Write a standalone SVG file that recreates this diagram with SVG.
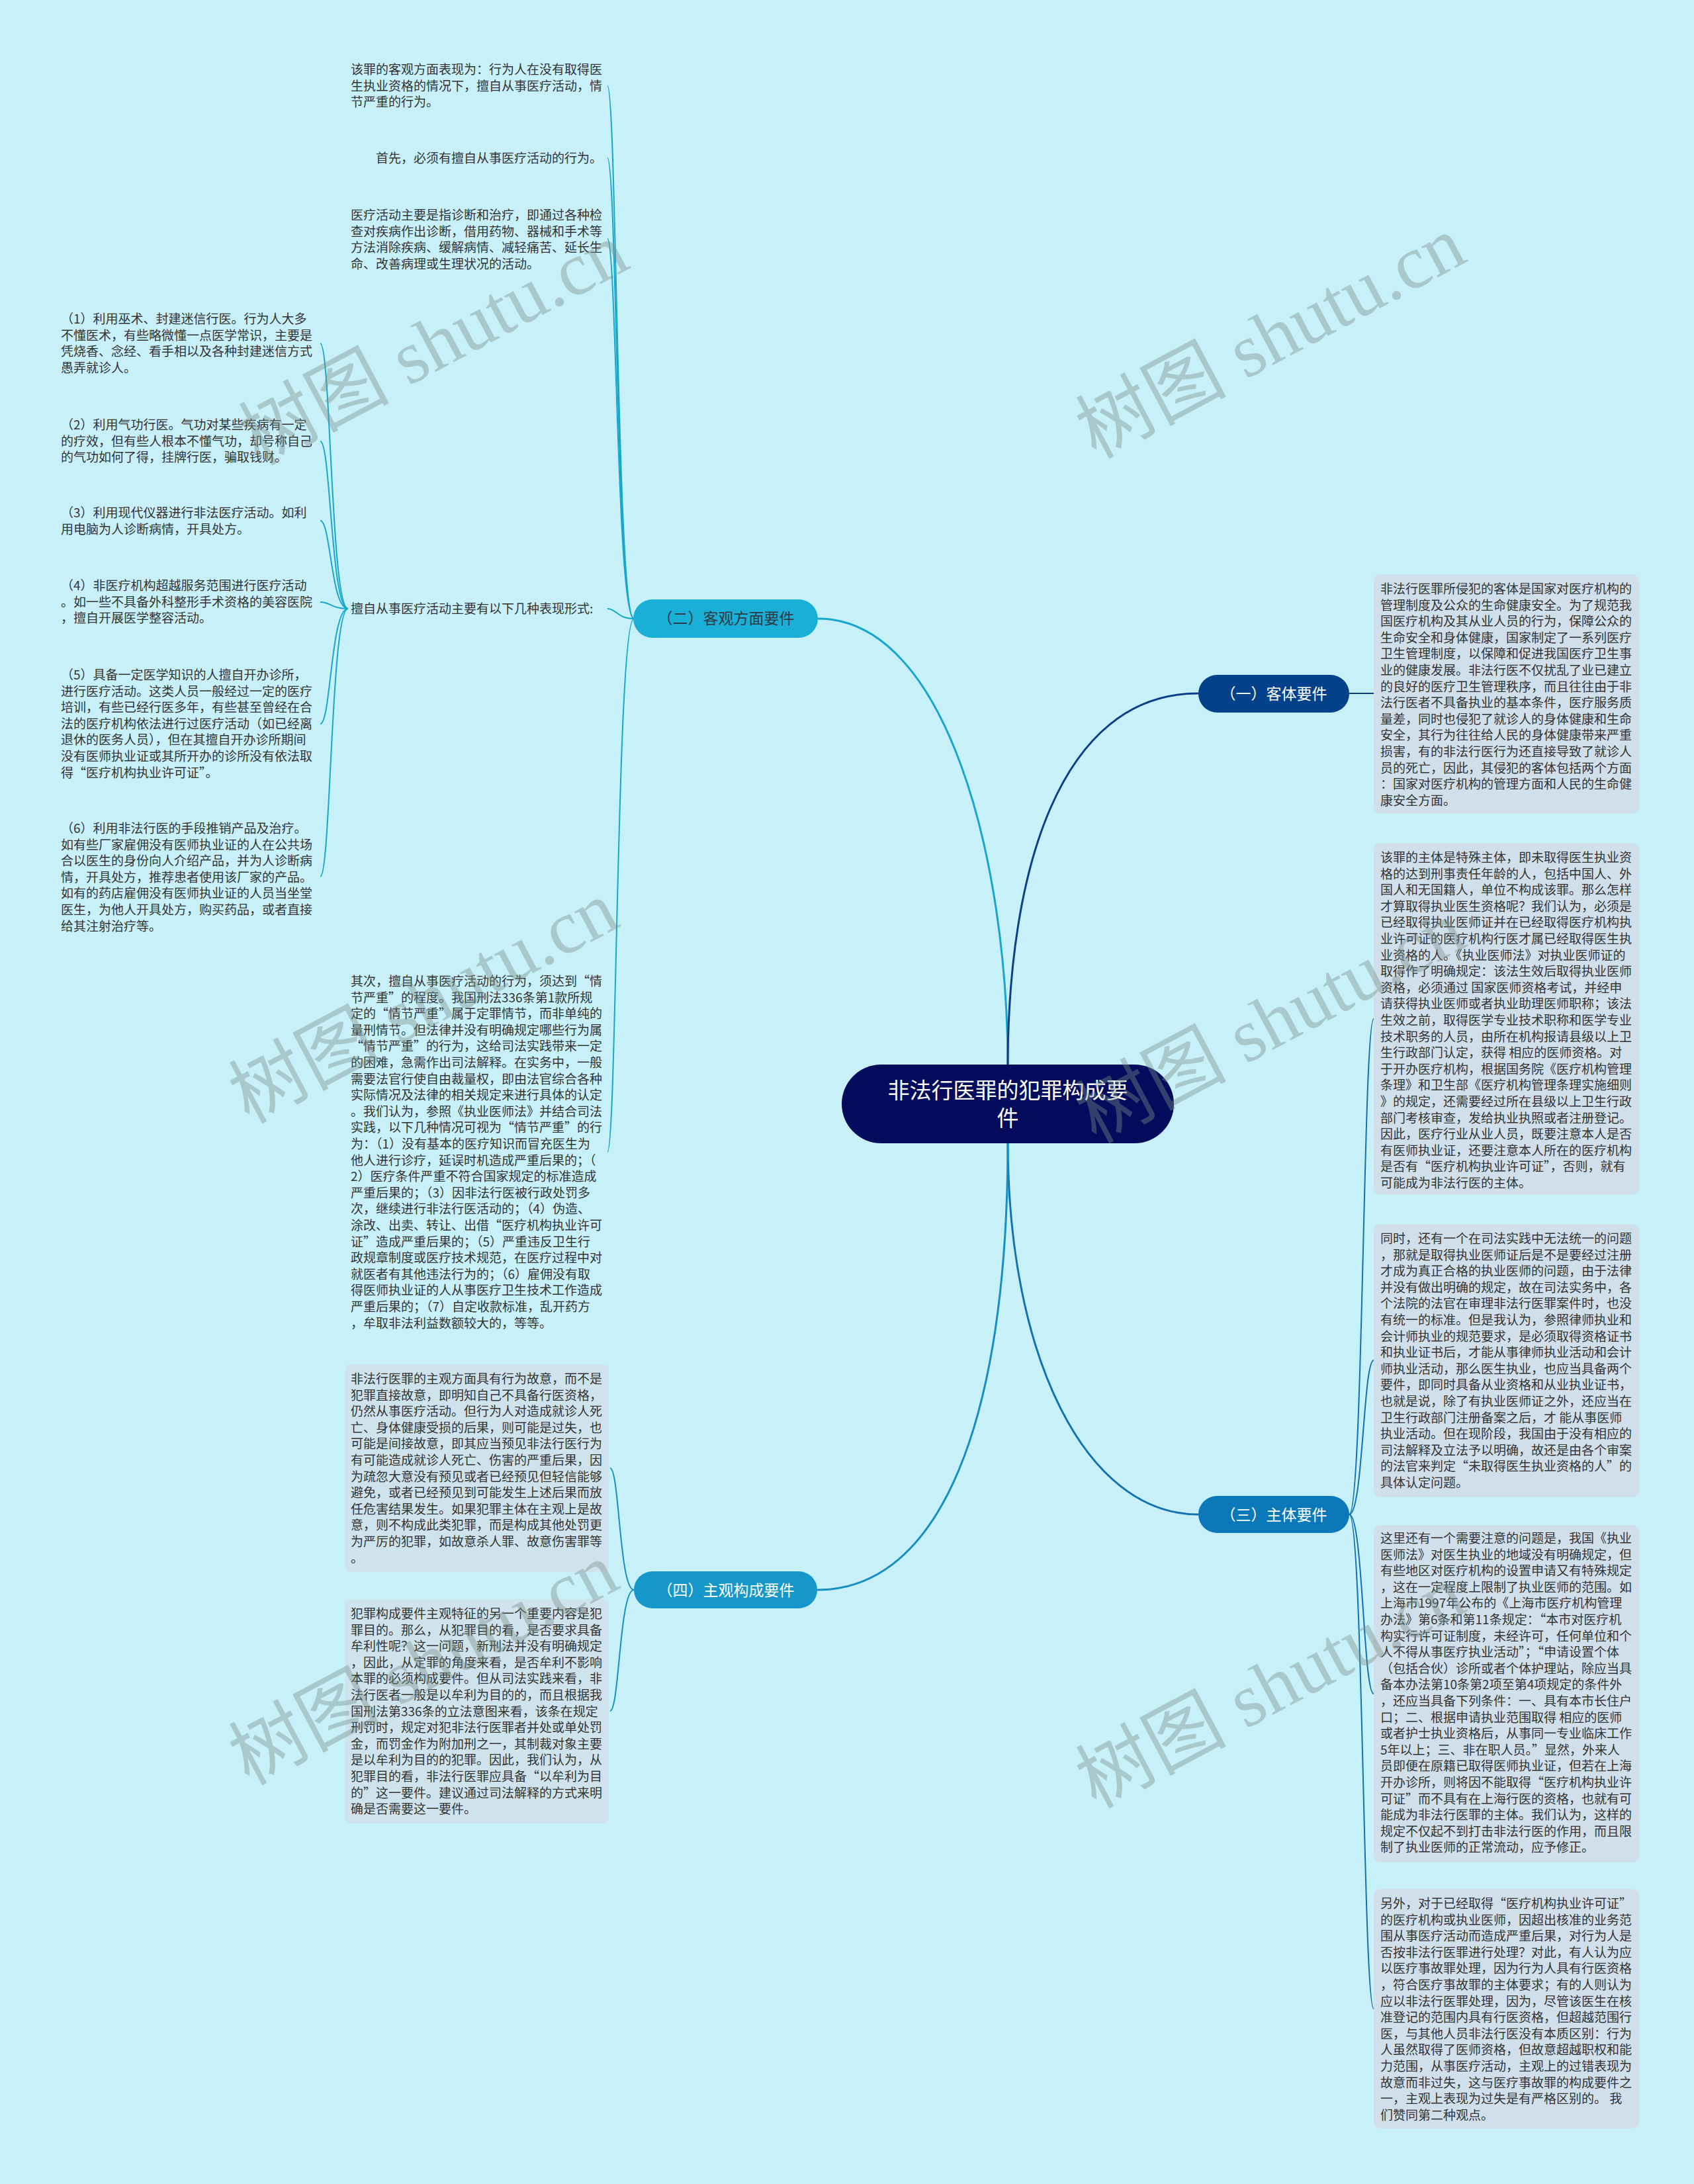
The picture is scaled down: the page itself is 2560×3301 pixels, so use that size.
<svg xmlns="http://www.w3.org/2000/svg" width="2560" height="3301" viewBox="0 0 2560 3301">
<style>
.t{font-family:'Noto Sans CJK SC','Noto Sans',sans-serif;font-size:19px;fill:#333333}
.nt{font-family:'Noto Sans CJK SC','Noto Sans',sans-serif;font-size:23px;text-anchor:middle}
.ct{font-family:'Noto Sans CJK SC','Noto Sans',sans-serif;font-size:33px;fill:#ffffff;text-anchor:middle}
.box{fill:#d0dfea}
.lbox{fill:#cfe3ec}
.c2{fill:none;stroke:#17a7cd;stroke-width:2}
.c1{fill:none;stroke:#0b3f86;stroke-width:2}
.c3{fill:none;stroke:#1272b0;stroke-width:2}
.c4{fill:none;stroke:#168fc3;stroke-width:2}
.wm{font-family:'Liberation Serif','Noto Sans CJK SC',serif;font-size:114px;fill:#7a8f8a;opacity:0.4;text-anchor:middle;dominant-baseline:central}
</style>
<rect x="0" y="0" width="2560" height="3301" fill="#c8f0f8"/>

<g id="connectors">
<path class="c2" d="M 1523 1612 C 1523 1300, 1430 935, 1236 935" style="stroke-width:3"/>
<path class="c1" d="M 1523 1612 C 1523 1320, 1600 1048, 1811 1048" style="stroke-width:3"/>
<path class="c3" d="M 1523 1725 C 1523 2050, 1640 2289, 1811 2289" style="stroke-width:3"/>
<path class="c4" d="M 1523 1725 C 1523 2150, 1420 2403, 1235 2403" style="stroke-width:3"/>
<path class="c1" d="M 2039 1048 H 2076"/>
<path class="c3" d="M 2039 2289 C 2060 2289, 2060 1540, 2076 1540"/>
<path class="c3" d="M 2039 2289 C 2060 2289, 2060 2056, 2076 2056"/>
<path class="c3" d="M 2039 2289 C 2060 2289, 2060 2560, 2076 2560"/>
<path class="c3" d="M 2039 2289 C 2060 2289, 2060 3036, 2076 3036"/>
<path class="c2" d="M 958 935 C 932 935, 932 130, 918 130"/>
<path class="c2" d="M 958 935 C 932 935, 932 239, 918 239"/>
<path class="c2" d="M 958 935 C 932 935, 932 361, 918 361"/>
<path class="c2" d="M 958 935 C 932 935, 932 920, 918 920"/>
<path class="c2" d="M 958 935 C 932 935, 932 1741, 918 1741"/>
<path class="c2" d="M 526 920 C 500 920, 500 519, 484 519"/>
<path class="c2" d="M 526 920 C 500 920, 500 667, 484 667"/>
<path class="c2" d="M 526 920 C 500 920, 500 787, 484 787"/>
<path class="c2" d="M 526 920 C 500 920, 500 910, 484 910"/>
<path class="c2" d="M 526 920 C 500 920, 500 1094, 484 1094"/>
<path class="c2" d="M 526 920 C 500 920, 500 1325, 484 1325"/>
<path class="c4" d="M 958 2403 C 936 2403, 936 2219, 922 2219"/>
<path class="c4" d="M 958 2403 C 936 2403, 936 2586, 922 2586"/>
</g>

<g id="root">
<rect x="1272" y="1609" width="502" height="119" rx="59.5" fill="#030b5c"/>
<text class="ct" x="1523" y="1660">非法行医罪的犯罪构成要</text>
<text class="ct" x="1523" y="1702">件</text>
</g>

<g id="n2">
<rect x="957" y="906" width="279" height="58" rx="29" fill="#19afd6"/>
<text class="nt" x="1097" y="943" fill="#2e3a44">（二）客观方面要件</text>
</g>
<g id="n1">
<rect x="1811" y="1020" width="228" height="57" rx="28.5" fill="#04418b"/>
<text class="nt" x="1925" y="1057" fill="#ffffff">（一）客体要件</text>
</g>
<g id="n3">
<rect x="1811" y="2261" width="228" height="56" rx="28" fill="#0b78ba"/>
<text class="nt" x="1925" y="2298" fill="#ffffff">（三）主体要件</text>
</g>
<g id="n4">
<rect x="958" y="2375" width="277" height="56" rx="28" fill="#1597c9"/>
<text class="nt" x="1097" y="2412" fill="#ffffff">（四）主观构成要件</text>
</g>

<g id="leafA">
<text class="t" x="530" y="112"><tspan x="530">该罪的客观方面表现为：行为人在没有取得医</tspan><tspan x="530" dy="24.6">生执业资格的情况下，擅自从事医疗活动，情</tspan><tspan x="530" dy="24.6">节严重的行为。</tspan></text>
</g>
<g id="leafB">
<text class="t" x="568" y="246">首先，必须有擅自从事医疗活动的行为。</text>
</g>
<g id="leafC">
<text class="t" x="530" y="332"><tspan x="530">医疗活动主要是指诊断和治疗，即通过各种检</tspan><tspan x="530" dy="24.6">查对疾病作出诊断，借用药物、器械和手术等</tspan><tspan x="530" dy="24.6">方法消除疾病、缓解病情、减轻痛苦、延长生</tspan><tspan x="530" dy="24.6">命、改善病理或生理状况的活动。</tspan></text>
</g>
<g id="leafD">
<text class="t" x="530" y="927">擅自从事医疗活动主要有以下几种表现形式:</text>
</g>
<g id="leafE">
<text class="t" x="530" y="1490"><tspan x="530">其次，擅自从事医疗活动的行为，须达到“情</tspan><tspan x="530" dy="24.6">节严重”的程度。我国刑法336条第1款所规</tspan><tspan x="530" dy="24.6">定的“情节严重”属于定罪情节，而非单纯的</tspan><tspan x="530" dy="24.6">量刑情节。但法律并没有明确规定哪些行为属</tspan><tspan x="530" dy="24.6">“情节严重”的行为，这给司法实践带来一定</tspan><tspan x="530" dy="24.6">的困难，急需作出司法解释。在实务中，一般</tspan><tspan x="530" dy="24.6">需要法官行使自由裁量权，即由法官综合各种</tspan><tspan x="530" dy="24.6">实际情况及法律的相关规定来进行具体的认定</tspan><tspan x="530" dy="24.6">。我们认为，参照《执业医师法》并结合司法</tspan><tspan x="530" dy="24.6">实践，以下几种情况可视为“情节严重”的行</tspan><tspan x="530" dy="24.6">为：（1）没有基本的医疗知识而冒充医生为</tspan><tspan x="530" dy="24.6">他人进行诊疗，延误时机造成严重后果的；（</tspan><tspan x="530" dy="24.6">2）医疗条件严重不符合国家规定的标准造成</tspan><tspan x="530" dy="24.6">严重后果的；（3）因非法行医被行政处罚多</tspan><tspan x="530" dy="24.6">次，继续进行非法行医活动的；（4）伪造、</tspan><tspan x="530" dy="24.6">涂改、出卖、转让、出借“医疗机构执业许可</tspan><tspan x="530" dy="24.6">证”造成严重后果的；（5）严重违反卫生行</tspan><tspan x="530" dy="24.6">政规章制度或医疗技术规范，在医疗过程中对</tspan><tspan x="530" dy="24.6">就医者有其他违法行为的；（6）雇佣没有取</tspan><tspan x="530" dy="24.6">得医师执业证的人从事医疗卫生技术工作造成</tspan><tspan x="530" dy="24.6">严重后果的；（7）自定收款标准，乱开药方</tspan><tspan x="530" dy="24.6">，牟取非法利益数额较大的，等等。</tspan></text>
</g>

<g id="leafD1">
<text class="t" x="92" y="489"><tspan x="92">（1）利用巫术、封建迷信行医。行为人大多</tspan><tspan x="92" dy="24.6">不懂医术，有些略微懂一点医学常识，主要是</tspan><tspan x="92" dy="24.6">凭烧香、念经、看手相以及各种封建迷信方式</tspan><tspan x="92" dy="24.6">愚弄就诊人。</tspan></text>
</g>
<g id="leafD2">
<text class="t" x="92" y="649"><tspan x="92">（2）利用气功行医。气功对某些疾病有一定</tspan><tspan x="92" dy="24.6">的疗效，但有些人根本不懂气功，却号称自己</tspan><tspan x="92" dy="24.6">的气功如何了得，挂牌行医，骗取钱财。</tspan></text>
</g>
<g id="leafD3">
<text class="t" x="92" y="782"><tspan x="92">（3）利用现代仪器进行非法医疗活动。如利</tspan><tspan x="92" dy="24.6">用电脑为人诊断病情，开具处方。</tspan></text>
</g>
<g id="leafD4">
<text class="t" x="92" y="892"><tspan x="92">（4）非医疗机构超越服务范围进行医疗活动</tspan><tspan x="92" dy="24.6">。如一些不具备外科整形手术资格的美容医院</tspan><tspan x="92" dy="24.6">，擅自开展医学整容活动。</tspan></text>
</g>
<g id="leafD5">
<text class="t" x="92" y="1027"><tspan x="92">（5）具备一定医学知识的人擅自开办诊所，</tspan><tspan x="92" dy="24.6">进行医疗活动。这类人员一般经过一定的医疗</tspan><tspan x="92" dy="24.6">培训，有些已经行医多年，有些甚至曾经在合</tspan><tspan x="92" dy="24.6">法的医疗机构依法进行过医疗活动（如已经离</tspan><tspan x="92" dy="24.6">退休的医务人员），但在其擅自开办诊所期间</tspan><tspan x="92" dy="24.6">没有医师执业证或其所开办的诊所没有依法取</tspan><tspan x="92" dy="24.6">得“医疗机构执业许可证”。</tspan></text>
</g>
<g id="leafD6">
<text class="t" x="92" y="1259"><tspan x="92">（6）利用非法行医的手段推销产品及治疗。</tspan><tspan x="92" dy="24.6">如有些厂家雇佣没有医师执业证的人在公共场</tspan><tspan x="92" dy="24.6">合以医生的身份向人介绍产品，并为人诊断病</tspan><tspan x="92" dy="24.6">情，开具处方，推荐患者使用该厂家的产品。</tspan><tspan x="92" dy="24.6">如有的药店雇佣没有医师执业证的人员当坐堂</tspan><tspan x="92" dy="24.6">医生，为他人开具处方，购买药品，或者直接</tspan><tspan x="92" dy="24.6">给其注射治疗等。</tspan></text>
</g>

<g id="leafF">
<rect class="lbox" x="522" y="2062" width="398" height="314" rx="8"/>
<text class="t" x="530" y="2091"><tspan x="530">非法行医罪的主观方面具有行为故意，而不是</tspan><tspan x="530" dy="24.6">犯罪直接故意，即明知自己不具备行医资格，</tspan><tspan x="530" dy="24.6">仍然从事医疗活动。但行为人对造成就诊人死</tspan><tspan x="530" dy="24.6">亡、身体健康受损的后果，则可能是过失，也</tspan><tspan x="530" dy="24.6">可能是间接故意，即其应当预见非法行医行为</tspan><tspan x="530" dy="24.6">有可能造成就诊人死亡、伤害的严重后果，因</tspan><tspan x="530" dy="24.6">为疏忽大意没有预见或者已经预见但轻信能够</tspan><tspan x="530" dy="24.6">避免，或者已经预见到可能发生上述后果而放</tspan><tspan x="530" dy="24.6">任危害结果发生。如果犯罪主体在主观上是故</tspan><tspan x="530" dy="24.6">意，则不构成此类犯罪，而是构成其他处罚更</tspan><tspan x="530" dy="24.6">为严厉的犯罪，如故意杀人罪、故意伤害罪等</tspan><tspan x="530" dy="24.6">。</tspan></text>
</g>
<g id="leafG">
<rect class="lbox" x="522" y="2417" width="398" height="339" rx="8"/>
<text class="t" x="530" y="2446"><tspan x="530">犯罪构成要件主观特征的另一个重要内容是犯</tspan><tspan x="530" dy="24.6">罪目的。那么，从犯罪目的看，是否要求具备</tspan><tspan x="530" dy="24.6">牟利性呢？这一问题，新刑法并没有明确规定</tspan><tspan x="530" dy="24.6">，因此，从定罪的角度来看，是否牟利不影响</tspan><tspan x="530" dy="24.6">本罪的必须构成要件。但从司法实践来看，非</tspan><tspan x="530" dy="24.6">法行医者一般是以牟利为目的的，而且根据我</tspan><tspan x="530" dy="24.6">国刑法第336条的立法意图来看，该条在规定</tspan><tspan x="530" dy="24.6">刑罚时，规定对犯非法行医罪者并处或单处罚</tspan><tspan x="530" dy="24.6">金，而罚金作为附加刑之一，其制裁对象主要</tspan><tspan x="530" dy="24.6">是以牟利为目的的犯罪。因此，我们认为，从</tspan><tspan x="530" dy="24.6">犯罪目的看，非法行医罪应具备“以牟利为目</tspan><tspan x="530" dy="24.6">的”这一要件。建议通过司法解释的方式来明</tspan><tspan x="530" dy="24.6">确是否需要这一要件。</tspan></text>
</g>

<g id="leafR1">
<rect class="box" x="2076" y="868" width="401" height="362" rx="10"/>
<text class="t" x="2086" y="897"><tspan x="2086">非法行医罪所侵犯的客体是国家对医疗机构的</tspan><tspan x="2086" dy="24.6">管理制度及公众的生命健康安全。为了规范我</tspan><tspan x="2086" dy="24.6">国医疗机构及其从业人员的行为，保障公众的</tspan><tspan x="2086" dy="24.6">生命安全和身体健康，国家制定了一系列医疗</tspan><tspan x="2086" dy="24.6">卫生管理制度，以保障和促进我国医疗卫生事</tspan><tspan x="2086" dy="24.6">业的健康发展。非法行医不仅扰乱了业已建立</tspan><tspan x="2086" dy="24.6">的良好的医疗卫生管理秩序，而且往往由于非</tspan><tspan x="2086" dy="24.6">法行医者不具备执业的基本条件，医疗服务质</tspan><tspan x="2086" dy="24.6">量差，同时也侵犯了就诊人的身体健康和生命</tspan><tspan x="2086" dy="24.6">安全，其行为往往给人民的身体健康带来严重</tspan><tspan x="2086" dy="24.6">损害，有的非法行医行为还直接导致了就诊人</tspan><tspan x="2086" dy="24.6">员的死亡，因此，其侵犯的客体包括两个方面</tspan><tspan x="2086" dy="24.6">：国家对医疗机构的管理方面和人民的生命健</tspan><tspan x="2086" dy="24.6">康安全方面。</tspan></text>
</g>
<g id="leafR2">
<rect class="box" x="2076" y="1274" width="401" height="532" rx="10"/>
<text class="t" x="2086" y="1303"><tspan x="2086">该罪的主体是特殊主体，即未取得医生执业资</tspan><tspan x="2086" dy="24.6">格的达到刑事责任年龄的人，包括中国人、外</tspan><tspan x="2086" dy="24.6">国人和无国籍人，单位不构成该罪。那么怎样</tspan><tspan x="2086" dy="24.6">才算取得执业医生资格呢？我们认为，必须是</tspan><tspan x="2086" dy="24.6">已经取得执业医师证并在已经取得医疗机构执</tspan><tspan x="2086" dy="24.6">业许可证的医疗机构行医才属已经取得医生执</tspan><tspan x="2086" dy="24.6">业资格的人。《执业医师法》对执业医师证的</tspan><tspan x="2086" dy="24.6">取得作了明确规定：该法生效后取得执业医师</tspan><tspan x="2086" dy="24.6">资格，必须通过 国家医师资格考试，并经申</tspan><tspan x="2086" dy="24.6">请获得执业医师或者执业助理医师职称；该法</tspan><tspan x="2086" dy="24.6">生效之前，取得医学专业技术职称和医学专业</tspan><tspan x="2086" dy="24.6">技术职务的人员，由所在机构报请县级以上卫</tspan><tspan x="2086" dy="24.6">生行政部门认定，获得 相应的医师资格。对</tspan><tspan x="2086" dy="24.6">于开办医疗机构，根据国务院《医疗机构管理</tspan><tspan x="2086" dy="24.6">条理》和卫生部《医疗机构管理条理实施细则</tspan><tspan x="2086" dy="24.6">》的规定，还需要经过所在县级以上卫生行政</tspan><tspan x="2086" dy="24.6">部门考核审查，发给执业执照或者注册登记。</tspan><tspan x="2086" dy="24.6">因此，医疗行业从业人员，既要注意本人是否</tspan><tspan x="2086" dy="24.6">有医师执业证，还要注意本人所在的医疗机构</tspan><tspan x="2086" dy="24.6">是否有“医疗机构执业许可证”，否则，就有</tspan><tspan x="2086" dy="24.6">可能成为非法行医的主体。</tspan></text>
</g>
<g id="leafR3">
<rect class="box" x="2076" y="1850" width="401" height="413" rx="10"/>
<text class="t" x="2086" y="1879"><tspan x="2086">同时，还有一个在司法实践中无法统一的问题</tspan><tspan x="2086" dy="24.6">，那就是取得执业医师证后是不是要经过注册</tspan><tspan x="2086" dy="24.6">才成为真正合格的执业医师的问题，由于法律</tspan><tspan x="2086" dy="24.6">并没有做出明确的规定，故在司法实务中，各</tspan><tspan x="2086" dy="24.6">个法院的法官在审理非法行医罪案件时，也没</tspan><tspan x="2086" dy="24.6">有统一的标准。但是我认为，参照律师执业和</tspan><tspan x="2086" dy="24.6">会计师执业的规范要求，是必须取得资格证书</tspan><tspan x="2086" dy="24.6">和执业证书后，才能从事律师执业活动和会计</tspan><tspan x="2086" dy="24.6">师执业活动，那么医生执业，也应当具备两个</tspan><tspan x="2086" dy="24.6">要件，即同时具备从业资格和从业执业证书，</tspan><tspan x="2086" dy="24.6">也就是说，除了有执业医师证之外，还应当在</tspan><tspan x="2086" dy="24.6">卫生行政部门注册备案之后，才 能从事医师</tspan><tspan x="2086" dy="24.6">执业活动。但在现阶段，我国由于没有相应的</tspan><tspan x="2086" dy="24.6">司法解释及立法予以明确，故还是由各个审案</tspan><tspan x="2086" dy="24.6">的法官来判定“未取得医生执业资格的人”的</tspan><tspan x="2086" dy="24.6">具体认定问题。</tspan></text>
</g>
<g id="leafR4">
<rect class="box" x="2076" y="2305" width="401" height="510" rx="10"/>
<text class="t" x="2086" y="2332"><tspan x="2086">这里还有一个需要注意的问题是，我国《执业</tspan><tspan x="2086" dy="24.6">医师法》对医生执业的地域没有明确规定，但</tspan><tspan x="2086" dy="24.6">有些地区对医疗机构的设置申请又有特殊规定</tspan><tspan x="2086" dy="24.6">，这在一定程度上限制了执业医师的范围。如</tspan><tspan x="2086" dy="24.6">上海市1997年公布的《上海市医疗机构管理</tspan><tspan x="2086" dy="24.6">办法》第6条和第11条规定：“本市对医疗机</tspan><tspan x="2086" dy="24.6">构实行许可证制度，未经许可，任何单位和个</tspan><tspan x="2086" dy="24.6">人不得从事医疗执业活动”；“申请设置个体</tspan><tspan x="2086" dy="24.6">（包括合伙）诊所或者个体护理站，除应当具</tspan><tspan x="2086" dy="24.6">备本办法第10条第2项至第4项规定的条件外</tspan><tspan x="2086" dy="24.6">，还应当具备下列条件：一、具有本市长住户</tspan><tspan x="2086" dy="24.6">口；二、根据申请执业范围取得 相应的医师</tspan><tspan x="2086" dy="24.6">或者护士执业资格后，从事同一专业临床工作</tspan><tspan x="2086" dy="24.6">5年以上；三、非在职人员。”显然，外来人</tspan><tspan x="2086" dy="24.6">员即便在原籍已取得医师执业证，但若在上海</tspan><tspan x="2086" dy="24.6">开办诊所，则将因不能取得“医疗机构执业许</tspan><tspan x="2086" dy="24.6">可证”而不具有在上海行医的资格，也就有可</tspan><tspan x="2086" dy="24.6">能成为非法行医罪的主体。我们认为，这样的</tspan><tspan x="2086" dy="24.6">规定不仅起不到打击非法行医的作用，而且限</tspan><tspan x="2086" dy="24.6">制了执业医师的正常流动，应予修正。</tspan></text>
</g>
<g id="leafR5">
<rect class="box" x="2076" y="2855" width="401" height="362" rx="10"/>
<text class="t" x="2086" y="2884"><tspan x="2086">另外，对于已经取得“医疗机构执业许可证”</tspan><tspan x="2086" dy="24.6">的医疗机构或执业医师，因超出核准的业务范</tspan><tspan x="2086" dy="24.6">围从事医疗活动而造成严重后果，对行为人是</tspan><tspan x="2086" dy="24.6">否按非法行医罪进行处理？对此，有人认为应</tspan><tspan x="2086" dy="24.6">以医疗事故罪处理，因为行为人具有行医资格</tspan><tspan x="2086" dy="24.6">，符合医疗事故罪的主体要求；有的人则认为</tspan><tspan x="2086" dy="24.6">应以非法行医罪处理，因为，尽管该医生在核</tspan><tspan x="2086" dy="24.6">准登记的范围内具有行医资格，但超越范围行</tspan><tspan x="2086" dy="24.6">医，与其他人员非法行医没有本质区别：行为</tspan><tspan x="2086" dy="24.6">人虽然取得了医师资格，但故意超越职权和能</tspan><tspan x="2086" dy="24.6">力范围，从事医疗活动，主观上的过错表现为</tspan><tspan x="2086" dy="24.6">故意而非过失，这与医疗事故罪的构成要件之</tspan><tspan x="2086" dy="24.6">一，主观上表现为过失是有严格区别的。 我</tspan><tspan x="2086" dy="24.6">们赞同第二种观点。</tspan></text>
</g>

<g id="watermarks">
<text class="wm" transform="translate(655 520) rotate(-28)">树图 shutu.cn</text>
<text class="wm" transform="translate(1920 510) rotate(-28)">树图 shutu.cn</text>
<text class="wm" transform="translate(640 1515) rotate(-28)">树图 shutu.cn</text>
<text class="wm" transform="translate(1920 1545) rotate(-28)">树图 shutu.cn</text>
<text class="wm" transform="translate(640 2515) rotate(-28)">树图 shutu.cn</text>
<text class="wm" transform="translate(1920 2550) rotate(-28)">树图 shutu.cn</text>
</g>
</svg>
